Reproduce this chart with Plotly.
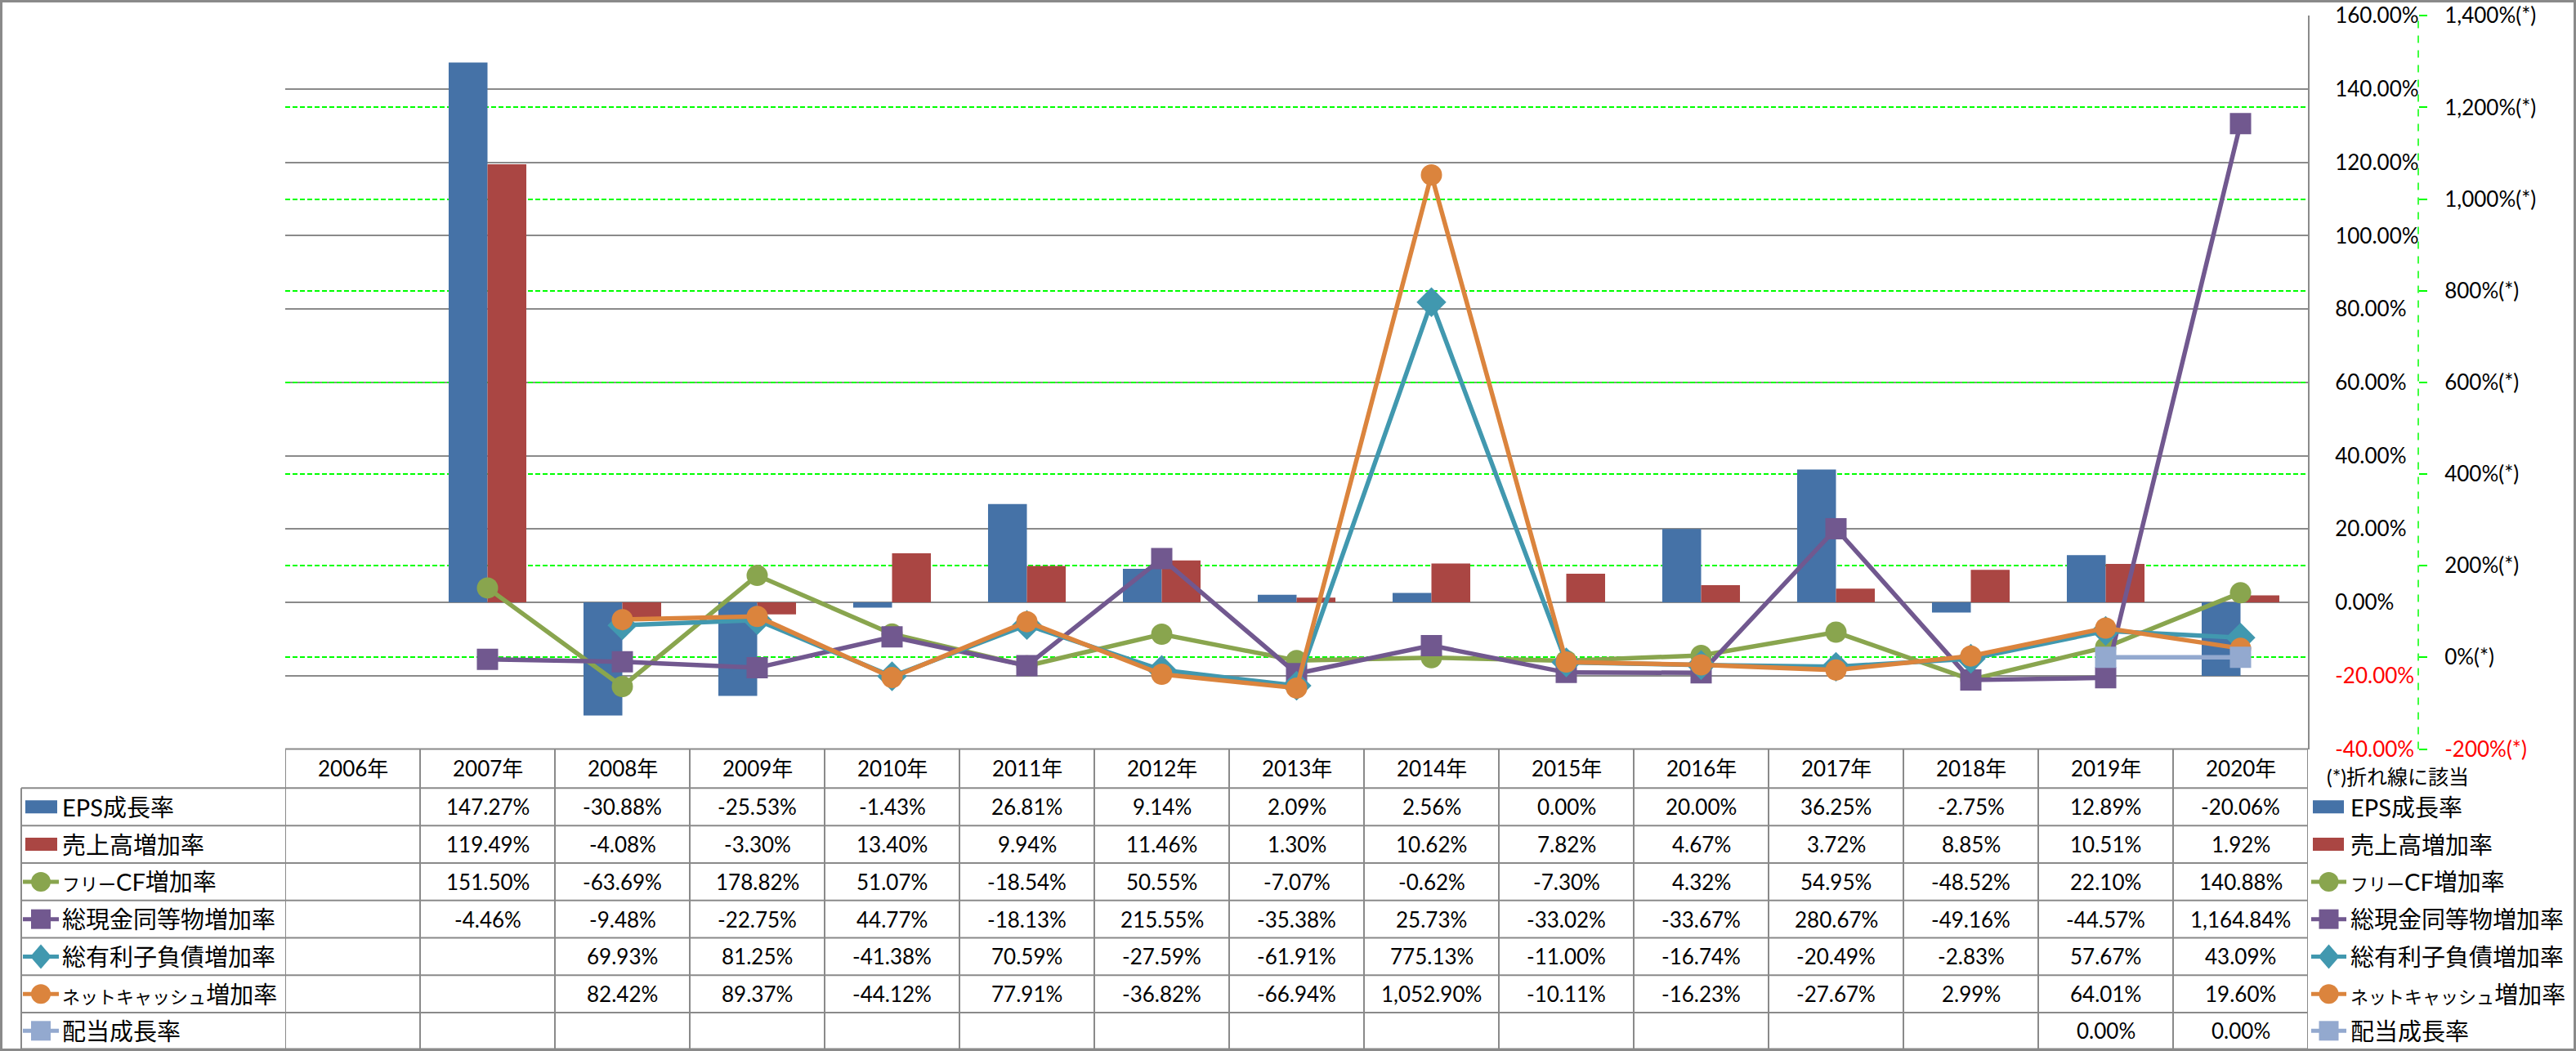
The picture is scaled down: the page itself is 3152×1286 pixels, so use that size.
import plotly.graph_objects as go

# ---------------- data ----------------
years = ["2006年", "2007年", "2008年", "2009年", "2010年", "2011年", "2012年", "2013年",
         "2014年", "2015年", "2016年", "2017年", "2018年", "2019年", "2020年"]

eps_growth = [None, 147.27, -30.88, -25.53, -1.43, 26.81, 9.14, 2.09, 2.56, 0.00, 20.00, 36.25, -2.75, 12.89, -20.06]
sales_growth = [None, 119.49, -4.08, -3.30, 13.40, 9.94, 11.46, 1.30, 10.62, 7.82, 4.67, 3.72, 8.85, 10.51, 1.92]
fcf_growth = [None, 151.50, -63.69, 178.82, 51.07, -18.54, 50.55, -7.07, -0.62, -7.30, 4.32, 54.95, -48.52, 22.10, 140.88]
cash_growth = [None, -4.46, -9.48, -22.75, 44.77, -18.13, 215.55, -35.38, 25.73, -33.02, -33.67, 280.67, -49.16, -44.57, 1164.84]
debt_growth = [None, None, 69.93, 81.25, -41.38, 70.59, -27.59, -61.91, 775.13, -11.00, -16.74, -20.49, -2.83, 57.67, 43.09]
netcash_growth = [None, None, 82.42, 89.37, -44.12, 77.91, -36.82, -66.94, 1052.90, -10.11, -16.23, -27.67, 2.99, 64.01, 19.60]
dividend_growth = [None, None, None, None, None, None, None, None, None, None, None, None, None, 0.00, 0.00]

bar_names = ["EPS成長率", "売上高増加率"]
line_names = ["フリーCF増加率", "総現金同等物増加率", "総有利子負債増加率", "ネットキャッシュ増加率", "配当成長率"]

primary_ticks = [-40, -20, 0, 20, 40, 60, 80, 100, 120, 140, 160]
secondary_ticks = [-200, 0, 200, 400, 600, 800, 1000, 1200, 1400]
note_text = "(*)折れ線に該当"

# ---------------- styling ----------------
W, H = 3152, 1286
FONT = "Lato, 'Noto Sans CJK JP', sans-serif"
GRAY = "#8a8a8a"
GREEN = "#00FF00"
bar_colors = ["#4572A7", "#AA4643"]
line_colors = ["#89A54E", "#71588F", "#4198AF", "#DB843D", "#93A9CF"]
line_symbols = ["circle", "square", "diamond", "circle", "square"]
symbol_sizes = {"circle": 26, "square": 26, "diamond": 28}

PLOT_L, PLOT_R, PLOT_T, PLOT_B = 349, 2824, 19.3, 916.5
SEC_AXIS_X = 2959


def px(x):
    return x / W


def py(y):
    return 1 - y / H


def label_html(name):
    # katakana drawn slightly smaller so the labels fit like the original's narrow kana
    out = []
    for ch in name:
        if "\u30a0" <= ch <= "\u30ff":
            out.append(f"<span style='font-size:22px'>{ch}</span>")
        else:
            out.append(ch)
    return "".join(out)


fig = go.Figure()

bar_series = [eps_growth, sales_growth]
for name, vals, col in zip(bar_names, bar_series, bar_colors):
    fig.add_trace(go.Bar(x=years, y=vals, name=name, marker=dict(color=col, line=dict(width=0)),
                         yaxis="y", hoverinfo="skip"))

line_series = [fcf_growth, cash_growth, debt_growth, netcash_growth, dividend_growth]
for name, vals, col, sym in zip(line_names, line_series, line_colors, line_symbols):
    fig.add_trace(go.Scatter(x=years, y=vals, name=name, mode="lines+markers", yaxis="y2",
                             connectgaps=False, hoverinfo="skip",
                             line=dict(color=col, width=5.5),
                             marker=dict(symbol=sym, size=symbol_sizes[sym], color=col,
                                         line=dict(width=0))))


def red_if_neg(v, s):
    return f"<span style='color:red'>{s}</span>" if v < 0 else s


prim_text = [red_if_neg(v, f"{v:.2f}%") for v in primary_ticks]
sec_text = [red_if_neg(v, f"{v:,}%(*)") for v in secondary_ticks]

fig.update_layout(
    autosize=True,
    margin=dict(l=0, r=0, t=0, b=0, pad=0, autoexpand=False),
    paper_bgcolor="white", plot_bgcolor="rgba(0,0,0,0)",
    showlegend=False,
    font=dict(family=FONT, size=26, color="black"),
    barmode="group", bargap=0.424, bargroupgap=0,
    xaxis=dict(type="category", domain=[px(PLOT_L), px(PLOT_R)], range=[-0.5, 14.5],
               showticklabels=False, showgrid=False, zeroline=False, showline=False, ticks="",
               automargin=False),
    yaxis=dict(domain=[py(PLOT_B), py(PLOT_T)], range=[-40, 160], side="right",
               tickvals=primary_ticks, ticktext=prim_text, tickfont=dict(size=26, family=FONT),
               showgrid=True, gridcolor=GRAY, gridwidth=2, zeroline=False,
               showline=True, linecolor=GRAY, linewidth=2, ticks="", ticklabelstandoff=26,
               automargin=False),
    yaxis2=dict(overlaying="y", side="right", anchor="free", position=px(SEC_AXIS_X),
                range=[-200, 1400], tickvals=secondary_ticks, ticktext=sec_text,
                tickfont=dict(size=26, family=FONT),
                showgrid=True, gridcolor=GREEN, gridwidth=1.5, griddash="6px,3px",
                zeroline=False, showline=False, ticks="outside", ticklen=10,
                tickcolor=GREEN, tickwidth=1.5, ticklabelstandoff=16, automargin=False),
)

shapes = []
annotations = []

# outer border
shapes.append(dict(type="rect", xref="paper", yref="paper", x0=px(1.5), x1=px(W - 1.5),
                   y0=py(H - 1.5), y1=py(1.5), line=dict(color=GRAY, width=3), layer="above"))
# secondary axis dashed line
shapes.append(dict(type="line", xref="paper", yref="paper", x0=px(SEC_AXIS_X), x1=px(SEC_AXIS_X),
                   y0=py(PLOT_B), y1=py(PLOT_T), line=dict(color=GREEN, width=1.5, dash="dash")))

# table geometry
HEADER_TOP = PLOT_B
row_edges = [964.3, 1010.2, 1056.0, 1101.8, 1147.5, 1193.3, 1239.1, 1283.5]
header_c = (HEADER_TOP + row_edges[0]) / 2
row_c = [(row_edges[i] + row_edges[i + 1]) / 2 for i in range(7)]
LABEL_L = 26

# horizontal table lines
shapes.append(dict(type="line", xref="paper", yref="paper", x0=px(PLOT_L), x1=px(PLOT_R),
                   y0=py(HEADER_TOP), y1=py(HEADER_TOP), line=dict(color=GRAY, width=2)))
for e in row_edges:
    shapes.append(dict(type="line", xref="paper", yref="paper", x0=px(LABEL_L), x1=px(PLOT_R),
                       y0=py(e), y1=py(e), line=dict(color=GRAY, width=2)))
# vertical table lines
shapes.append(dict(type="line", xref="paper", yref="paper", x0=px(LABEL_L), x1=px(LABEL_L),
                   y0=py(row_edges[0]), y1=py(row_edges[-1]), line=dict(color=GRAY, width=2)))
for k in range(len(years) + 1):
    shapes.append(dict(type="line", xref="x", yref="paper", x0=k - 0.5, x1=k - 0.5,
                       y0=py(HEADER_TOP), y1=py(row_edges[-1]), line=dict(color=GRAY, width=2)))

# header years
for yr in years:
    annotations.append(dict(x=yr, xref="x", y=py(header_c), yref="paper", text=yr, showarrow=False,
                            xanchor="center", yanchor="middle", font=dict(size=26)))

# table values
all_series = bar_series + line_series
for r, vals in enumerate(all_series):
    for yr, v in zip(years, vals):
        if v is None:
            continue
        annotations.append(dict(x=yr, xref="x", y=py(row_c[r]), yref="paper", text=f"{v:,.2f}%",
                                showarrow=False, xanchor="center", yanchor="middle",
                                font=dict(size=26)))


def legend_symbol(x_left, x_right, yc, kind, color, symbol=None):
    if kind == "bar":
        shapes.append(dict(type="rect", xref="paper", yref="paper", x0=px(x_left), x1=px(x_right),
                           y0=py(yc + 8), y1=py(yc - 8), fillcolor=color, line=dict(width=0),
                           layer="above"))
        return
    shapes.append(dict(type="line", xref="paper", yref="paper", x0=px(x_left), x1=px(x_right),
                       y0=py(yc), y1=py(yc), line=dict(color=color, width=5), layer="above"))
    cx = (x_left + x_right) / 2
    if symbol == "circle":
        shapes.append(dict(type="circle", xref="paper", yref="paper", x0=px(cx - 12), x1=px(cx + 12),
                           y0=py(yc + 12), y1=py(yc - 12), fillcolor=color, line=dict(width=0),
                           layer="above"))
    elif symbol == "square":
        shapes.append(dict(type="rect", xref="paper", yref="paper", x0=px(cx - 12), x1=px(cx + 12),
                           y0=py(yc + 12), y1=py(yc - 12), fillcolor=color, line=dict(width=0),
                           layer="above"))
    else:
        path = (f"M {px(cx)},{py(yc - 15)} L {px(cx + 13)},{py(yc)} "
                f"L {px(cx)},{py(yc + 15)} L {px(cx - 13)},{py(yc)} Z")
        shapes.append(dict(type="path", xref="paper", yref="paper", path=path, fillcolor=color,
                           line=dict(width=0), layer="above"))


all_names = bar_names + line_names
all_colors = bar_colors + line_colors
all_kinds = ["bar", "bar"] + ["line"] * 5
all_syms = [None, None] + line_symbols
for r in range(7):
    yc = row_c[r]
    # left legend (table labels)
    if all_kinds[r] == "bar":
        legend_symbol(31, 70, yc, "bar", all_colors[r])
    else:
        legend_symbol(28, 72, yc, "line", all_colors[r], all_syms[r])
    annotations.append(dict(x=px(74), xref="paper", y=py(yc), yref="paper",
                            text=label_html(all_names[r]),
                            showarrow=False, xanchor="left", yanchor="middle", font=dict(size=29)))
    # right legend
    if all_kinds[r] == "bar":
        legend_symbol(2830, 2868, yc, "bar", all_colors[r])
    else:
        legend_symbol(2828, 2871, yc, "line", all_colors[r], all_syms[r])
    annotations.append(dict(x=px(2874), xref="paper", y=py(yc), yref="paper",
                            text=label_html(all_names[r]),
                            showarrow=False, xanchor="left", yanchor="middle", font=dict(size=29)))

annotations.append(dict(x=px(2845), xref="paper", y=py(950), yref="paper", text=note_text,
                        showarrow=False, xanchor="left", yanchor="middle", font=dict(size=25)))

fig.update_layout(shapes=shapes, annotations=annotations)

fig.write_html("out.html", config={"displayModeBar": False, "responsive": True},
               default_width="100vw", default_height="100vh",
               post_script=(
                   "document.body.style.margin='0';document.body.style.overflow='hidden';"
                   "document.documentElement.style.overflow='hidden';"))
